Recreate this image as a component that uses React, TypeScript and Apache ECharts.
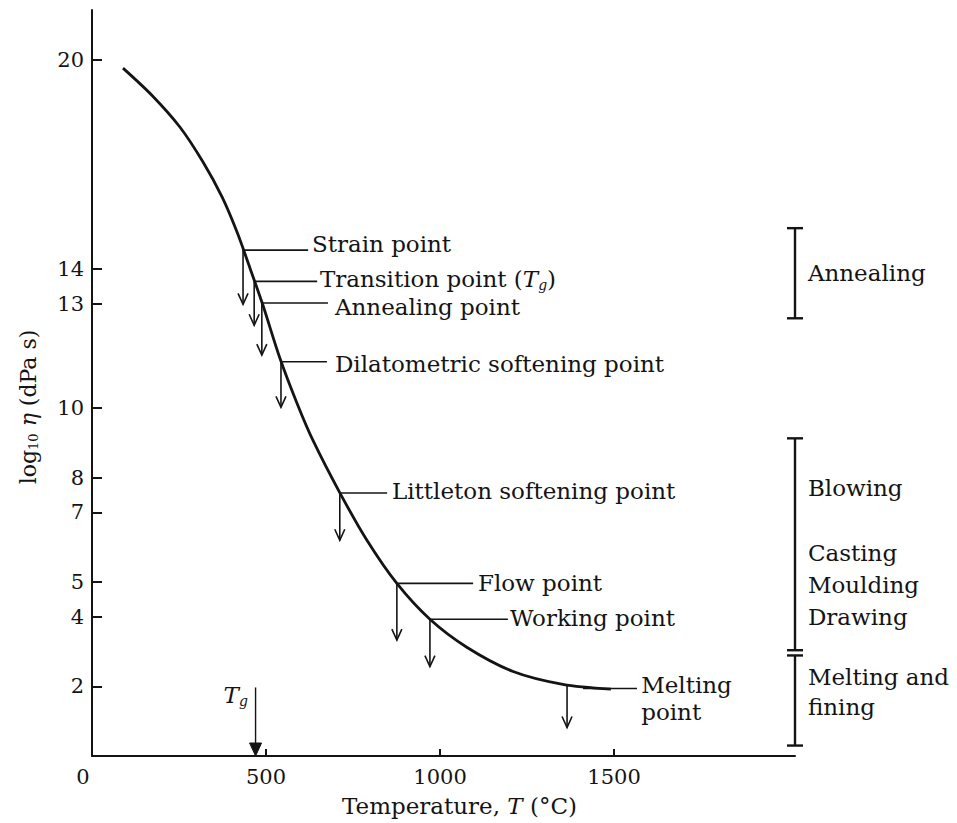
import React, { useEffect, useRef } from 'react';
import * as echarts from 'echarts';

const INK = '#141414';
const FONT = 'DejaVu Serif';

// Viscosity curve of a soda-lime glass
const curveT = [89, 172, 253, 319, 374, 417, 454, 491, 540, 589, 635, 713, 790, 876, 971, 1078, 1210, 1353, 1491];
const curveLogEta = [19.77, 18.99, 18.07, 17.07, 16.06, 15.05, 14.02, 12.96, 11.43, 10.14, 9.07, 7.55, 6.2, 4.96, 3.93, 3.12, 2.43, 2.06, 1.92];

// Axis tick labels
const xTickValues = [0, 500, 1000, 1500];
const yTickValues = [2, 4, 5, 7, 8, 10, 13, 14, 20];

// Characteristic viscosity points
const pointLabels = [
  'Strain point',
  'Transition point ({i|T}{g|g})',
  'Annealing point',
  'Dilatometric softening point',
  'Littleton softening point',
  'Flow point',
  'Working point',
  'Melting\npoint',
];
const pointT = [434, 466, 488, 543, 712, 876, 971, 1365];
const pointLogEta = [14.54, 13.64, 13.02, 11.33, 7.56, 4.96, 3.93, 2.04];
const arrowEndLogEta = [12.98, 12.38, 11.52, 10.02, 6.2, 3.33, 2.57, 0.82];
const leaderStartT = [434, 466, 488, 543, 712, 876, 971, 1411];
const leaderLogEta = [14.54, 13.64, 13.02, 11.33, 7.56, 4.96, 3.93, 1.94];
const leaderEndT = [621, 647, 678, 675, 848, 1095, 1195, 1566];
const labelT = [632, 655, 698, 698, 862, 1109, 1201, 1578];
const labelLogEta = [14.71, 13.7, 12.91, 11.26, 7.62, 4.98, 3.96, 1.64];

// Working ranges (brackets on the right)
const rangeT = [2020, 2020, 2020];
const rangeTop = [15.17, 9.13, 2.89];
const rangeBottom = [12.58, 3.04, 0.3];
const rangeLabels = ['Annealing', 'Blowing', 'Casting\nMoulding\nDrawing', 'Melting and\nfining'];
const rangeLabelT = [2057, 2057, 2057, 2057];
const rangeLabelLogEta = [13.87, 7.7, 4.92, 1.83];

// Glass transition marker on the temperature axis
const tgT = [470];
const tgTop = [1.97];
const tgLabelT = [448];
const tgLabelLogEta = [1.74];

const richText = {
  i: { fontFamily: FONT, fontSize: 23, fontStyle: 'italic' as const, color: INK },
  g: { fontFamily: FONT, fontSize: 14, fontStyle: 'italic' as const, color: INK, padding: [12, 0, 0, 0] },
};

const option: any = {
  animation: false,
  backgroundColor: '#fff',
  grid: { left: 92, right: 162, top: 10, bottom: 67, containLabel: false },
  xAxis: {
    type: 'value',
    min: 0,
    max: 2020,
    interval: 500,
    axisLine: { show: true, lineStyle: { color: INK, width: 2 } },
    axisTick: { show: true, inside: true, length: 7, customValues: [500, 1000, 1500], lineStyle: { color: INK, width: 2 } },
    axisLabel: {
      customValues: xTickValues,
      margin: 10,
      fontFamily: FONT,
      fontSize: 21,
      color: INK,
      formatter: (v: number) => (v === 0 ? '{z|0}' : String(v)),
      rich: { z: { fontFamily: FONT, fontSize: 21, color: INK, padding: [0, 18, 0, 0] } },
    },
    splitLine: { show: false },
    name: 'Temperature, {i|T} (°C)',
    nameLocation: 'middle',
    nameGap: 38,
    nameTextStyle: {
      fontFamily: FONT,
      fontSize: 23,
      color: INK,
      padding: [0, 0, 0, 32],
      rich: { i: { fontFamily: FONT, fontSize: 23, fontStyle: 'italic', color: INK } },
    },
  },
  yAxis: {
    type: 'value',
    min: 0,
    max: 21.44,
    axisLine: { show: true, lineStyle: { color: INK, width: 2 } },
    axisTick: { show: true, inside: true, length: 10, customValues: yTickValues, lineStyle: { color: INK, width: 2 } },
    axisLabel: { customValues: yTickValues, margin: 8, fontFamily: FONT, fontSize: 21, color: INK },
    splitLine: { show: false },
    name: 'log{s|10} {e|η} (dPa s)',
    nameLocation: 'middle',
    nameGap: 52,
    nameRotate: 90,
    nameTextStyle: {
      fontFamily: FONT,
      fontSize: 22,
      color: INK,
      padding: [0, 48, 0, 0],
      rich: {
        s: { fontFamily: FONT, fontSize: 13, color: INK, padding: [10, 0, 0, 0] },
        e: { fontFamily: FONT, fontSize: 22, fontStyle: 'italic', color: INK },
      },
    },
  },
  series: [
    {
      type: 'line',
      data: curveT.map((t, i) => [t, curveLogEta[i]]),
      showSymbol: false,
      smooth: 0.3,
      lineStyle: { color: INK, width: 2.8 },
      silent: true,
    },
    {
      type: 'custom',
      coordinateSystem: 'cartesian2d',
      clip: false,
      silent: true,
      data: pointT.map((t, i) => [t, pointLogEta[i]]),
      encode: { x: 0, y: 1 },
      renderItem: (params: any, api: any) => {
        const i = params.dataIndex;
        const p = api.coord([pointT[i], pointLogEta[i]]);
        const a = api.coord([pointT[i], arrowEndLogEta[i]]);
        const l0 = api.coord([leaderStartT[i], leaderLogEta[i]]);
        const l1 = api.coord([leaderEndT[i], leaderLogEta[i]]);
        const tp = api.coord([labelT[i], labelLogEta[i]]);
        const st = { stroke: INK, lineWidth: 1.6, fill: 'none' };
        return {
          type: 'group',
          children: [
            { type: 'line', shape: { x1: p[0], y1: p[1], x2: a[0], y2: a[1] }, style: st },
            {
              type: 'polyline',
              shape: { points: [[a[0] - 5, a[1] - 11], [a[0], a[1]], [a[0] + 5, a[1] - 11]] },
              style: st,
            },
            { type: 'line', shape: { x1: l0[0], y1: l0[1], x2: l1[0], y2: l1[1] }, style: st },
            {
              type: 'text',
              x: tp[0],
              y: tp[1],
              style: {
                text: pointLabels[i],
                fill: INK,
                fontFamily: FONT,
                fontSize: 23,
                lineHeight: 27,
                align: 'left',
                verticalAlign: 'middle',
                rich: richText,
              },
            },
          ],
        };
      },
    },
    {
      type: 'custom',
      coordinateSystem: 'cartesian2d',
      clip: false,
      silent: true,
      data: rangeT.map((t, i) => [t, rangeTop[i]]),
      encode: { x: 0, y: 1 },
      renderItem: (params: any, api: any) => {
        const i = params.dataIndex;
        const top = api.coord([rangeT[i], rangeTop[i]]);
        const bot = api.coord([rangeT[i], rangeBottom[i]]);
        const st = { stroke: INK, lineWidth: 2.4 };
        return {
          type: 'group',
          children: [
            { type: 'line', shape: { x1: top[0], y1: top[1], x2: bot[0], y2: bot[1] }, style: st },
            { type: 'line', shape: { x1: top[0] - 8, y1: top[1], x2: top[0] + 8, y2: top[1] }, style: st },
            { type: 'line', shape: { x1: bot[0] - 8, y1: bot[1], x2: bot[0] + 8, y2: bot[1] }, style: st },
          ],
        };
      },
    },
    {
      type: 'custom',
      coordinateSystem: 'cartesian2d',
      clip: false,
      silent: true,
      data: rangeLabelT.map((t, i) => [t, rangeLabelLogEta[i]]),
      encode: { x: 0, y: 1 },
      renderItem: (params: any, api: any) => {
        const i = params.dataIndex;
        const p = api.coord([rangeLabelT[i], rangeLabelLogEta[i]]);
        return {
          type: 'text',
          x: p[0],
          y: p[1],
          style: {
            text: rangeLabels[i],
            fill: INK,
            fontFamily: FONT,
            fontSize: 23,
            lineHeight: i === 2 ? 32 : 30,
            align: 'left',
            verticalAlign: 'middle',
          },
        };
      },
    },
    {
      type: 'custom',
      coordinateSystem: 'cartesian2d',
      clip: false,
      silent: true,
      data: tgT.map((t, i) => [t, tgTop[i]]),
      encode: { x: 0, y: 1 },
      renderItem: (params: any, api: any) => {
        const i = params.dataIndex;
        const top = api.coord([tgT[i], tgTop[i]]);
        const bot = api.coord([tgT[i], 0]);
        const lp = api.coord([tgLabelT[i], tgLabelLogEta[i]]);
        return {
          type: 'group',
          children: [
            { type: 'line', shape: { x1: top[0], y1: top[1], x2: bot[0], y2: bot[1] - 10 }, style: { stroke: INK, lineWidth: 1.4 } },
            {
              type: 'polygon',
              shape: { points: [[bot[0] - 6, bot[1] - 13], [bot[0] + 6, bot[1] - 13], [bot[0], bot[1]]] },
              style: { fill: INK, stroke: INK, lineWidth: 1 },
            },
            {
              type: 'text',
              x: lp[0],
              y: lp[1],
              style: {
                text: '{i|T}{g|g}',
                fill: INK,
                fontFamily: FONT,
                fontSize: 23,
                align: 'right',
                verticalAlign: 'middle',
                rich: richText,
              },
            },
          ],
        };
      },
    },
  ],
};

export default function App() {
  const ref = useRef<HTMLDivElement>(null);
  useEffect(() => {
    const chart = echarts.init(ref.current!, null, { renderer: 'svg' });
    chart.setOption(option);
    return () => chart.dispose();
  }, []);
  return (
    <div
      ref={ref}
      style={{ position: 'fixed', left: 0, top: 0, width: 957, height: 823, background: '#fff' }}
    />
  );
}
